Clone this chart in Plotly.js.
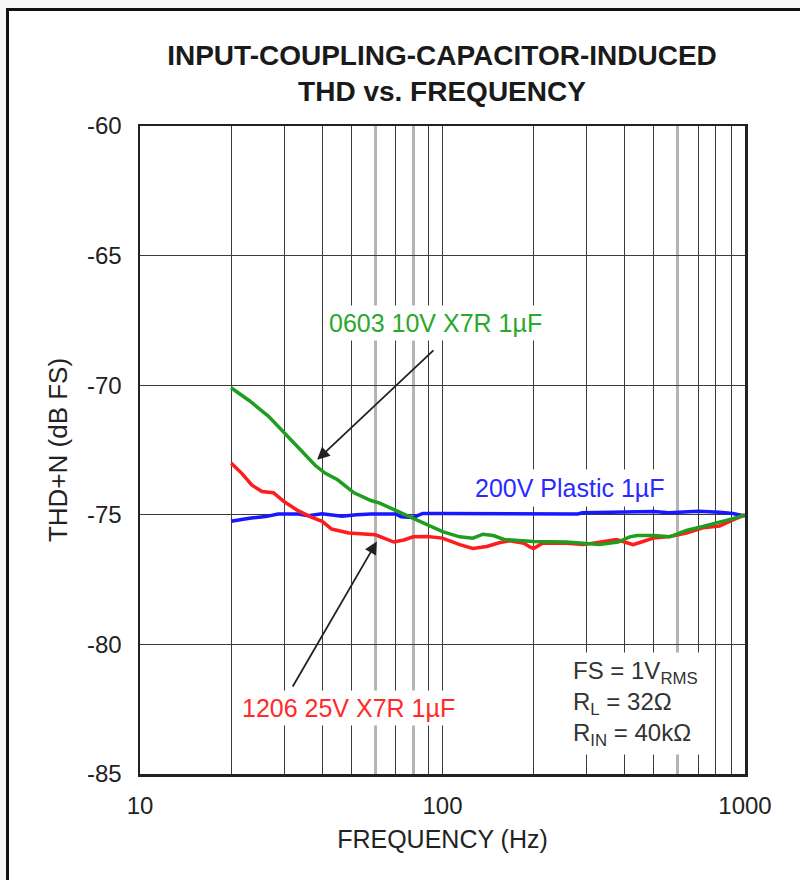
<!DOCTYPE html>
<html>
<head>
<meta charset="utf-8">
<script src="https://cdn.plot.ly/plotly-3.0.1.min.js"></script>
<style>
  html, body { margin: 0; padding: 0; background: #f7f7f7; }
  #frame { position: absolute; left: 6px; top: 8px; width: 820px; height: 900px;
           background: #ffffff; border-left: 3px solid #111; border-top: 3px solid #111; }
  #chart { position: absolute; left: 0; top: 0; width: 800px; height: 880px; }
</style>
</head>
<body>
<div id="frame"></div>
<div id="chart"></div>
<script>
// ---- data ----
const freq0603 = [20, 23, 26.6, 30, 34, 38, 41, 45, 51, 58, 62, 69, 78, 89, 100, 114, 126, 136, 147, 160, 180, 200, 257, 330, 380, 416, 440, 500, 564, 640, 726, 824, 912, 1000];
const thd0603  = [-70.1, -70.6, -71.2, -71.85, -72.5, -73.1, -73.4, -73.65, -74.15, -74.45, -74.55, -74.8, -75.1, -75.4, -75.65, -75.85, -75.9, -75.75, -75.8, -75.95, -76.0, -76.03, -76.05, -76.15, -76.05, -75.85, -75.8, -75.8, -75.85, -75.6, -75.45, -75.3, -75.15, -75.0];

const freq1206 = [20, 21.7, 23.4, 25.3, 27.6, 30, 33.4, 37, 40, 43, 49, 54, 60, 64, 69, 74.5, 80, 89, 100, 114, 126, 140, 155, 167, 186, 195, 200, 214, 257, 292, 331, 376, 400, 427, 460, 497, 564, 640, 726, 824, 912, 1000];
const thd1206  = [-73.0, -73.4, -73.85, -74.1, -74.15, -74.5, -74.85, -75.1, -75.25, -75.55, -75.7, -75.72, -75.77, -75.9, -76.05, -75.97, -75.85, -75.84, -75.9, -76.15, -76.3, -76.22, -76.07, -76.0, -76.1, -76.25, -76.3, -76.1, -76.1, -76.15, -76.05, -75.95, -76.05, -76.15, -76.03, -75.9, -75.84, -75.7, -75.5, -75.43, -75.2, -75.0];

const freqPlastic = [20, 23, 26, 28.6, 33.4, 36, 40, 46.5, 52, 58, 70, 73, 80, 86, 100, 150, 200, 280, 290, 400, 500, 560, 640, 700, 824, 912, 1000];
const thdPlastic  = [-75.25, -75.13, -75.07, -74.97, -74.97, -75.04, -74.96, -75.06, -75.0, -74.97, -74.97, -75.08, -75.1, -74.95, -74.95, -74.95, -74.97, -74.97, -74.92, -74.9, -74.87, -74.92, -74.87, -74.86, -74.9, -74.95, -75.05];

const seriesNames = ['0603 10V X7R 1µF', '1206 25V X7R 1µF', '200V Plastic 1µF'];

// dark vertical grid lines (with the decade labels) and the lighter grey ones
const xGridVals   = [10, 20, 30, 40, 50, 70, 90, 100, 200, 300, 400, 500, 700, 800, 900, 1000];
const xTickLabels = ['10', '', '', '', '', '', '', '100', '', '', '', '', '', '', '', '1000'];
const xLightGridVals = [60, 80, 600];
const yTickVals   = [-85, -80, -75, -70, -65, -60];
const yTickLabels = ['-85', '-80', '-75', '-70', '-65', '-60'];

const FONT = 'Liberation Sans, Arial, Helvetica, sans-serif';
const GREEN = '#1e9e1e', RED = '#ff1c1c', BLUE = '#1818ff';

const traces = [
  {x: freqPlastic, y: thdPlastic, mode: 'lines', name: seriesNames[2], line: {color: BLUE, width: 3.5}},
  {x: freq1206, y: thd1206, mode: 'lines', name: seriesNames[1], line: {color: RED, width: 3.5}},
  {x: freq0603, y: thd0603, mode: 'lines', name: seriesNames[0], line: {color: GREEN, width: 3.5}}
];

const L = Math.log10;
const layout = {
  width: 800, height: 880,
  paper_bgcolor: 'rgba(0,0,0,0)', plot_bgcolor: '#ffffff',
  margin: {l: 140, r: 55, t: 126, b: 106, pad: 0},
  showlegend: false,
  font: {family: FONT, color: '#222'},
  title: {
    text: '<b>INPUT-COUPLING-CAPACITOR-INDUCED<br>THD vs. FREQUENCY</b>',
    font: {family: FONT, size: 28, color: '#1a1a1a'},
    x: 0.5525, xanchor: 'center', xref: 'container',
    y: 0.9265, yanchor: 'top', yref: 'container'
  },
  xaxis: {
    type: 'log', range: [1, 3],
    tickmode: 'array', tickvals: xGridVals, ticktext: xTickLabels,
    ticks: '', ticklabelstandoff: 9,
    showgrid: true, gridcolor: '#3a3a3a', gridwidth: 1,
    minor: {tickmode: 'array', tickvals: xLightGridVals, ticks: '', showgrid: true, gridcolor: '#b4b4b4', gridwidth: 3},
    showline: true, mirror: true, linecolor: '#222', linewidth: 2.5,
    tickfont: {family: FONT, size: 24, color: '#222'},
    title: {text: 'FREQUENCY (Hz)', font: {family: FONT, size: 25, color: '#222'}, standoff: 12},
    zeroline: false, fixedrange: true
  },
  yaxis: {
    range: [-85, -60],
    tickmode: 'array', tickvals: yTickVals, ticktext: yTickLabels,
    ticks: '', ticklabelstandoff: 11,
    showgrid: true, gridcolor: '#3a3a3a', gridwidth: 1,
    showline: true, mirror: true, linecolor: '#222', linewidth: 2.5,
    tickfont: {family: FONT, size: 24, color: '#222'},
    title: {text: 'THD+N (dB FS)', font: {family: FONT, size: 26, color: '#222'}, standoff: 12},
    zeroline: false, fixedrange: true
  },
  annotations: [
    {x: L(38.5), y: -72.88, ax: 1.975, ay: -68.6, axref: 'x', ayref: 'y', xref: 'x', yref: 'y',
     text: '', showarrow: true, arrowhead: 2, arrowsize: 1.4, arrowwidth: 1.8, arrowcolor: '#222', standoff: 0},
    {x: 1.783, y: -76.03, ax: 1.502, ay: -81.68, axref: 'x', ayref: 'y', xref: 'x', yref: 'y',
     text: '', showarrow: true, arrowhead: 2, arrowsize: 1.4, arrowwidth: 1.8, arrowcolor: '#222', standoff: 0},
    {x: 1.977, y: -67.6, xref: 'x', yref: 'y', text: seriesNames[0], showarrow: false,
     font: {family: FONT, size: 25, color: '#2aa82a'}, bgcolor: '#ffffff', borderpad: 3},
    {x: 1.688, y: -82.44, xref: 'x', yref: 'y', text: seriesNames[1], showarrow: false,
     font: {family: FONT, size: 25, color: '#ff2a2a'}, bgcolor: '#ffffff', borderpad: 3},
    {x: 2.421, y: -73.96, xref: 'x', yref: 'y', text: seriesNames[2], showarrow: false,
     font: {family: FONT, size: 25, color: '#2a2aff'}, bgcolor: '#ffffff', borderpad: 4},
    {x: 2.414, y: -82.29, xref: 'x', yref: 'y', xanchor: 'left', yanchor: 'middle', align: 'left',
     text: 'FS = 1V<sub>RMS</sub><br>R<sub>L</sub> = 32Ω<br>R<sub>IN</sub> = 40kΩ', showarrow: false,
     font: {family: FONT, size: 24, color: '#333'}, bgcolor: '#ffffff', borderpad: 4}
  ]
};

Plotly.newPlot('chart', traces, layout, {staticPlot: true, displayModeBar: false});
</script>
</body>
</html>
